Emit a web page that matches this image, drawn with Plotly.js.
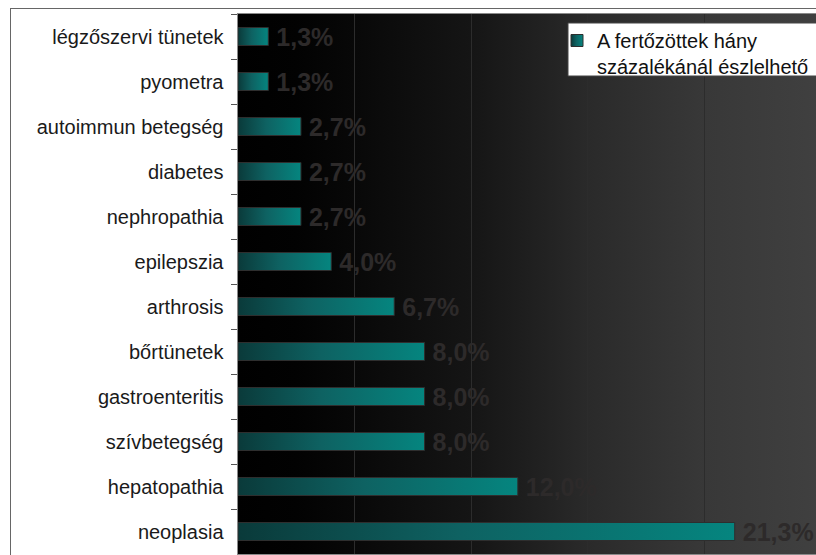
<!DOCTYPE html>
<html>
<head>
<meta charset="utf-8">
<script src="https://cdn.plot.ly/plotly-3.0.1.min.js"></script>
<style>
  html, body { margin:0; padding:0; width:816px; height:555px; overflow:hidden; background:#fff; }
  #frame { position:absolute; left:10px; top:8px; width:900px; height:900px; border:1.5px solid #666; box-sizing:border-box; }
  #bg { position:absolute; left:238px; top:14px; width:583px; height:540px;
        background: linear-gradient(to right, #000000 0%, #020202 10%, #080808 20%, #151515 40%, #1f1f1f 50%, #2a2a2a 60%, #383838 80%, #404040 100%); }
  #chart { position:absolute; left:0; top:0; }
</style>
</head>
<body>
<div id="frame"></div>
<div id="bg"></div>
<div id="chart"></div>
<script>
const categories = ["légzőszervi tünetek", "pyometra", "autoimmun betegség", "diabetes", "nephropathia",
  "epilepszia", "arthrosis", "bőrtünetek", "gastroenteritis", "szívbetegség", "hepatopathia", "neoplasia"];
const values = [1.3, 1.3, 2.7, 2.7, 2.7, 4.0, 6.7, 8.0, 8.0, 8.0, 12.0, 21.3];
const seriesName = "A fertőzöttek hány<br>százalékánál észlelhető";
const gridValues = [0, 5, 10, 15, 20, 25];

const trace = {
  type: "bar",
  orientation: "h",
  y: categories,
  x: values,
  name: seriesName,
  marker: { color: "#0b6e6b", line: { color: "#2e2e2e", width: 1 } },
  width: 0.4,
  texttemplate: "\u2009%{x:.1f}%",
  textposition: "outside",
  constraintext: "none",
  cliponaxis: false,
  textfont: { family: "Liberation Sans, Arial, sans-serif", size: 25, color: "#2d2a2a", weight: "bold" },
  showlegend: true,
  hoverinfo: "skip"
};

const layout = {
  width: 830,
  height: 570,
  margin: { l: 238, r: 9, t: 14, b: 16 },
  paper_bgcolor: "rgba(0,0,0,0)",
  plot_bgcolor: "rgba(0,0,0,0)",
  separators: ", ",
  font: { family: "Liberation Sans, Arial, sans-serif", size: 20, color: "#1a1a1a" },
  xaxis: {
    range: [0, 25],
    tickvals: gridValues,
    showticklabels: false,
    showgrid: true,
    gridcolor: "#2c2c2c",
    gridwidth: 1,
    zeroline: false,
    showline: true,
    mirror: true,
    linecolor: "#8a8a8a",
    linewidth: 1.5,
    fixedrange: true
  },
  yaxis: {
    type: "category",
    autorange: "reversed",
    tickson: "boundaries",
    ticks: "outside",
    ticklen: 6,
    tickcolor: "#555",
    tickwidth: 1,
    ticklabelstandoff: 9,
    showline: true,
    linecolor: "#8a8a8a",
    linewidth: 1.5,
    showgrid: false,
    tickfont: { family: "Liberation Sans, Arial, sans-serif", size: 20, color: "#1a1a1a" },
    fixedrange: true
  },
  shapes: [{
    type: "rect", xref: "paper", yref: "paper",
    x0: (568 - 238) / 583, x1: (840 - 238) / 583,
    y0: 1 - (76 - 14) / 540, y1: 1 - (23 - 14) / 540,
    fillcolor: "#ffffff", line: { color: "#444", width: 1 }, layer: "above"
  }],
  legend: {
    x: (557 - 238) / 583, y: 1 - (21 - 14) / 540,
    xanchor: "left", yanchor: "top",
    bgcolor: "rgba(0,0,0,0)", borderwidth: 0,
    valign: "top",
    font: { family: "Liberation Sans, Arial, sans-serif", size: 20, color: "#111" },
    itemclick: false, itemdoubleclick: false
  },
  bargap: 0.6
};

Plotly.newPlot("chart", [trace], layout, { staticPlot: true, displayModeBar: false }).then(gd => {
  const svg = gd.querySelector("svg.main-svg");
  const ns = "http://www.w3.org/2000/svg";
  let defs = svg.querySelector("defs");
  if (!defs) { defs = document.createElementNS(ns, "defs"); svg.insertBefore(defs, svg.firstChild); }
  const grad = document.createElementNS(ns, "linearGradient");
  grad.setAttribute("id", "barGrad");
  grad.setAttribute("x1", "0"); grad.setAttribute("y1", "0");
  grad.setAttribute("x2", "1"); grad.setAttribute("y2", "0");
  [["0", "#0a3a3a"], ["0.45", "#0e6262"], ["1", "#05857f"]].forEach(([o, c]) => {
    const s = document.createElementNS(ns, "stop");
    s.setAttribute("offset", o); s.setAttribute("stop-color", c);
    grad.appendChild(s);
  });
  defs.appendChild(grad);
  gd.querySelectorAll(".barlayer .point path, .legendpoints path").forEach(p => {
    p.style.fill = "url(#barGrad)";
  });
});
</script>
</body>
</html>
